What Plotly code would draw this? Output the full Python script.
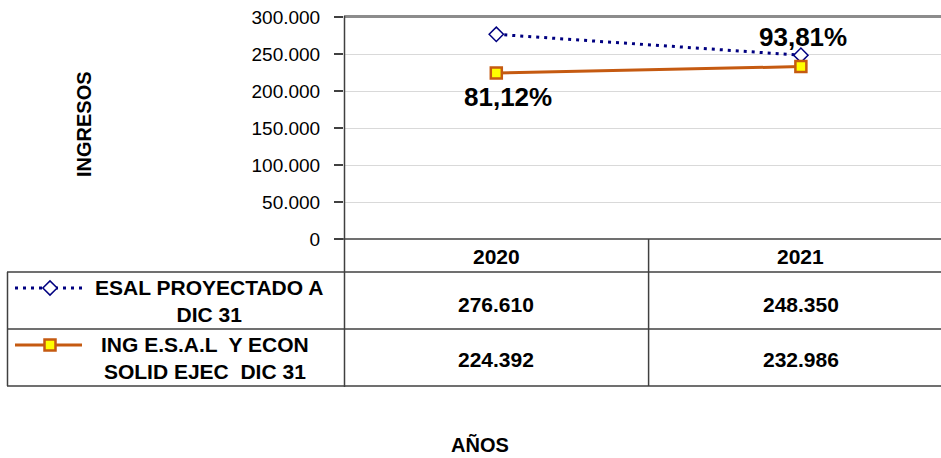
import plotly.graph_objects as go

years = ["2020", "2021"]
esal_proy = [276610, 248350]
ing_ejec = [224392, 232986]
pct_labels = ["81,12%", "93,81%"]
tick_vals = [0, 50000, 100000, 150000, 200000, 250000, 300000]
name_proy = "ESAL PROYECTADO A<br>DIC 31"
name_ejec = "ING E.S.A.L  Y ECON<br>SOLID EJEC  DIC 31"

W, H = 941, 458
FONT = "Liberation Sans, Arial, sans-serif"
NAVY = "#000080"
ORANGE = "#C55A11"
LINE = "#404040"
DOT = "3px,5px"

def fmt(v):
    return f"{v:,}".replace(",", ".")

fig = go.Figure()

# legend samples in table (pixel overlay axes)
fig.add_trace(go.Scatter(x=[15, 49, 85], y=[288, 288, 288], mode="lines",
                         line=dict(color=NAVY, width=3, dash=DOT),
                         showlegend=False, xaxis="x2", yaxis="y2", hoverinfo="skip"))
fig.add_trace(go.Scatter(x=[50], y=[288], mode="markers",
                         marker=dict(symbol="diamond", size=11, color="white", line=dict(color=NAVY, width=1.5)),
                         showlegend=False, xaxis="x2", yaxis="y2", hoverinfo="skip"))
fig.add_trace(go.Scatter(x=[15, 82], y=[345, 345], mode="lines",
                         line=dict(color=ORANGE, width=3),
                         showlegend=False, xaxis="x2", yaxis="y2", hoverinfo="skip"))
fig.add_trace(go.Scatter(x=[50], y=[345], mode="markers",
                         marker=dict(symbol="square", size=11, color="#FFFF00",
                                     line=dict(color=ORANGE, width=2.5)),
                         showlegend=False, xaxis="x2", yaxis="y2", hoverinfo="skip"))

# main series
fig.add_trace(go.Scatter(x=years, y=esal_proy, mode="lines+markers",
                         line=dict(color=NAVY, width=3, dash=DOT),
                         marker=dict(symbol="diamond", size=11, color="white", line=dict(color=NAVY, width=1.5)),
                         showlegend=False, xaxis="x", yaxis="y"))
fig.add_trace(go.Scatter(x=years, y=ing_ejec, mode="lines+markers",
                         line=dict(color=ORANGE, width=3),
                         marker=dict(symbol="square", size=11, color="#FFFF00", line=dict(color=ORANGE, width=2.5)),
                         showlegend=False, xaxis="x", yaxis="y"))

x0 = 344 / W
ybot = 239
ytop = 17

fig.update_layout(
    width=W, height=H,
    margin=dict(l=0, r=0, t=0, b=0, autoexpand=False),
    paper_bgcolor="white", plot_bgcolor="rgba(0,0,0,0)",
    separators=",.",
    font=dict(family=FONT, color="black"),
    xaxis=dict(domain=[x0, 1], type="category", range=[-0.5, 1.46], anchor="y",
               showticklabels=False, showgrid=False, zeroline=False, showline=False, ticks=""),
    yaxis=dict(domain=[(H - ybot) / H, (H - ytop) / H], range=[0, 300000], anchor="x",
               tickvals=tick_vals, ticktext=[fmt(v) for v in tick_vals],
               tickfont=dict(size=19, family=FONT, color="black"),
               ticks="outside", ticklen=9, tickcolor=LINE, tickwidth=1.5,
               ticklabelstandoff=10,
               showgrid=True, gridcolor="#d9d9d9", gridwidth=1,
               zeroline=False, showline=False),
    xaxis2=dict(domain=[0, 1], range=[0, W], visible=False, anchor="y2"),
    yaxis2=dict(domain=[0, 1], range=[H, 0], visible=False, anchor="x2"),
)

shapes = []
shapes.append(dict(type="line", xref="x2", yref="y2", x0=344, x1=W, y0=16.5, y1=16.5,
                   line=dict(color="#8c8c8c", width=3)))
shapes.append(dict(type="line", xref="x2", yref="y2", x0=344.5, x1=344.5, y0=16, y1=387,
                   line=dict(color=LINE, width=1.5)))
shapes.append(dict(type="line", xref="x2", yref="y2", x0=335, x1=W, y0=239, y1=239,
                   line=dict(color=LINE, width=1.5)))
for yy in (272, 329, 386):
    shapes.append(dict(type="line", xref="x2", yref="y2", x0=7, x1=W, y0=yy, y1=yy,
                       line=dict(color=LINE, width=1.5)))
shapes.append(dict(type="line", xref="x2", yref="y2", x0=7.5, x1=7.5, y0=272, y1=386,
                   line=dict(color=LINE, width=1.5)))
shapes.append(dict(type="line", xref="x", yref="y2", x0=0.5, x1=0.5, y0=239, y1=386,
                   line=dict(color=LINE, width=1.5)))
fig.update_layout(shapes=shapes)

ann = []
bold = dict(family=FONT, size=21, color="black")
for i, yr in enumerate(years):
    ann.append(dict(x=i, y=256, xref="x", yref="y2", text=f"<b>{yr}</b>", showarrow=False, font=bold))
    ann.append(dict(x=i, y=304, xref="x", yref="y2", text=f"<b>{fmt(esal_proy[i])}</b>", showarrow=False, font=bold))
    ann.append(dict(x=i, y=359, xref="x", yref="y2", text=f"<b>{fmt(ing_ejec[i])}</b>", showarrow=False, font=bold))

ann.append(dict(x=209, y=301, xref="x2", yref="y2", text=f"<b>{name_proy}</b>", showarrow=False,
                font=bold, align="center"))
ann.append(dict(x=205, y=358, xref="x2", yref="y2", text=f"<b>{name_ejec}</b>", showarrow=False,
                font=bold, align="center"))

big = dict(family=FONT, size=26, color="black")
ann.append(dict(x=0, y=ing_ejec[0], xref="x", yref="y", text=f"<b>{pct_labels[0]}</b>",
                showarrow=False, font=big, xshift=12, yshift=-24))
ann.append(dict(x=1, y=esal_proy[1], xref="x", yref="y", text=f"<b>{pct_labels[1]}</b>",
                showarrow=False, font=big, xshift=2, yshift=18))

ann.append(dict(x=84, y=124, xref="x2", yref="y2", text="<b>INGRESOS</b>", showarrow=False,
                textangle=-90, font=dict(family=FONT, size=20, color="black")))
ann.append(dict(x=480, y=445, xref="x2", yref="y2", text="<b>AÑOS</b>", showarrow=False,
                font=dict(family=FONT, size=20, color="black")))
fig.update_layout(annotations=ann)

fig.write_html("out.html", config={"displayModeBar": False},
               post_script="document.body.style.margin='0';document.body.style.overflow='hidden';")
